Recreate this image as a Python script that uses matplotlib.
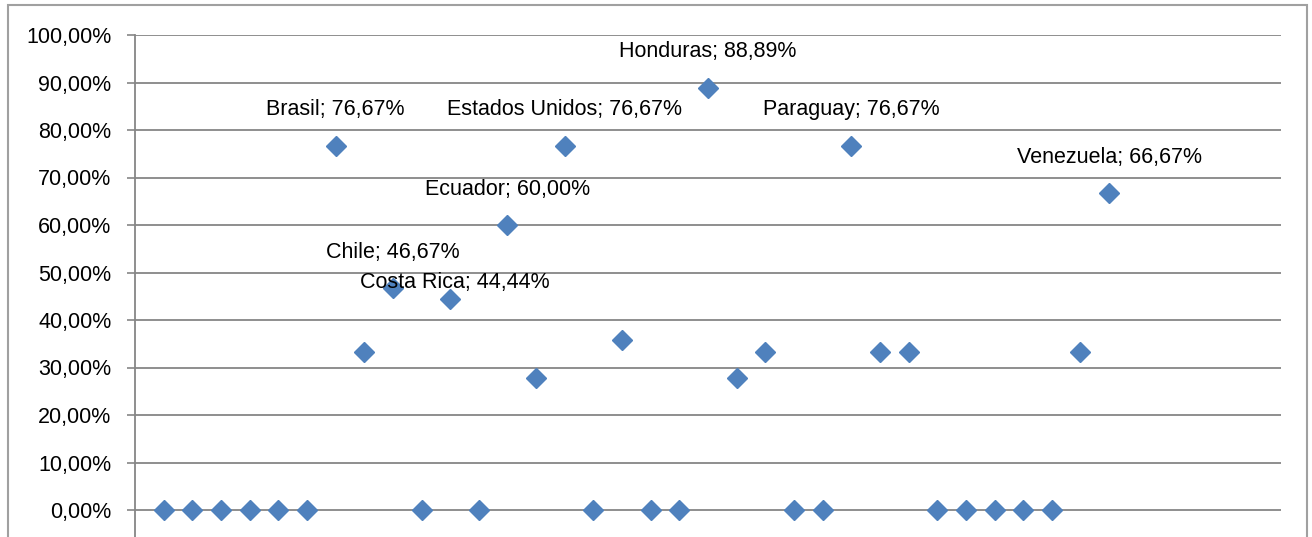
import matplotlib
matplotlib.use('Agg')
import matplotlib.pyplot as plt
from matplotlib.patches import Rectangle
from matplotlib.ticker import FuncFormatter

# Data (position index 1..34, share as fraction)
positions = list(range(1, 35))
shares = [0, 0, 0, 0, 0, 0, 0.7667, 0.3333, 0.4667, 0, 0.4444, 0, 0.60, 0.2778,
          0.7667, 0, 0.3571, 0, 0, 0.8889, 0.2778, 0.3333, 0, 0, 0.7667, 0.3333,
          0.3333, 0, 0, 0, 0, 0, 0.3333, 0.6667]
# Only the labelled points carry a name
labels = {7: 'Brasil', 9: 'Chile', 11: 'Costa Rica', 13: 'Ecuador',
          15: 'Estados Unidos', 20: 'Honduras', 25: 'Paraguay', 34: 'Venezuela'}
y_ticks = [i / 10 for i in range(11)]

plt.rcParams['font.family'] = ['Liberation Sans', 'DejaVu Sans']
FS = 15.5

fig = plt.figure(figsize=(13.12, 5.37), dpi=100)
ax = fig.add_axes([135 / 1312, 0, (1281 - 135) / 1312, 1 - 35 / 537])

blue = '#4F81BD'
grid_gray = '#868686'

ax.plot(positions, shares, linestyle='none', marker='D', markersize=10,
        color=blue, clip_on=False, zorder=3)

def pct(v, pos):
    return f'{v * 100:.2f}%'.replace('.', ',')

for x, name in labels.items():
    v = shares[x - 1]
    txt = f'{name}; {pct(v, None)}'
    dx, dy = 0, 36
    if name == 'Costa Rica':
        dx, dy = 5, 16
    ax.annotate(txt, (x, v), xytext=(dx, dy), textcoords='offset pixels',
                ha='center', va='center', fontsize=FS, color='black', zorder=4)

ax.set_xlim(0, 40)
ax.set_ylim(-27 / 475, 1.0)
ax.set_yticks(y_ticks)
ax.yaxis.set_major_formatter(FuncFormatter(pct))
ax.set_xticks([])
ax.tick_params(axis='y', direction='out', length=6, width=1.2, color=grid_gray,
               labelsize=FS, pad=11)
ax.yaxis.grid(True, color=grid_gray, linewidth=1.3)
ax.set_axisbelow(True)

for side in ['top', 'right', 'bottom']:
    ax.spines[side].set_visible(False)
ax.spines['left'].set_color(grid_gray)
ax.spines['left'].set_linewidth(1.3)

# Outer chart border (bottom edge is cropped in the original)
fig.patches.append(Rectangle((8 / 1312, -0.05), (1307 - 8) / 1312, 1.05 - 5 / 537,
                             transform=fig.transFigure, fill=False,
                             edgecolor='#A0A0A0', linewidth=1.5, clip_on=False))

fig.savefig('out.png', dpi=100)
